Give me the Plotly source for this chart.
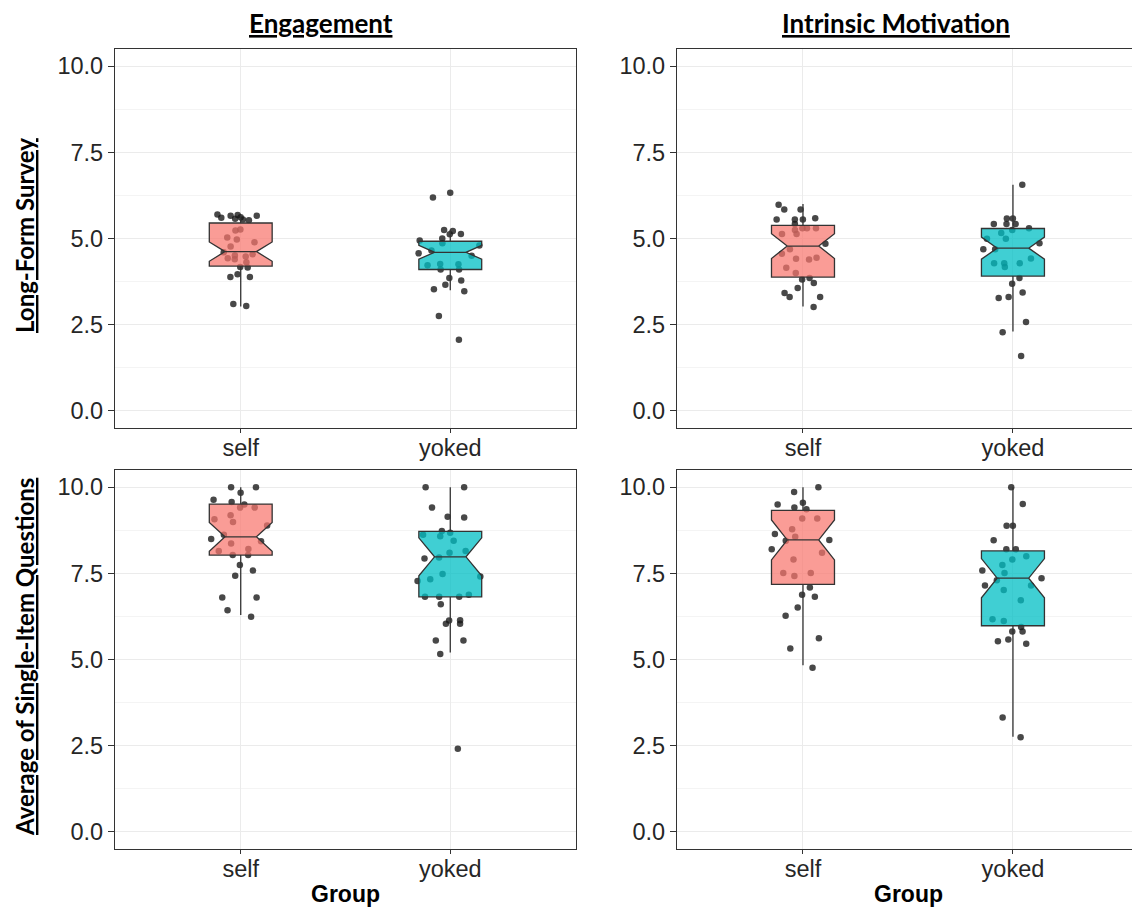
import plotly.graph_objects as go

# ---------------- data ----------------
groups = ["self", "yoked"]
y_ticks = [0, 2.5, 5, 7.5, 10]
y_tick_labels = ["0.0", "2.5", "5.0", "7.5", "10.0"]
col_titles = ["Engagement", "Intrinsic Motivation"]
row_titles = ["Long-Form Survey", "Average of Single-Item Questions"]

# Engagement, Long-Form Survey
eng_lf_self = [5.70, 5.68, 5.66, 5.66, 5.62, 5.60, 5.57, 5.55, 5.53, 5.26, 5.23,
               5.03, 4.97, 4.89, 4.77, 4.60, 4.54, 4.51, 4.48, 4.43, 4.40, 4.31,
               4.17, 4.16, 3.96, 3.88, 3.88, 3.10, 3.04]
eng_lf_yoked = [6.33, 6.19, 5.25, 5.22, 5.13, 5.12, 5.00, 4.94, 4.86, 4.80, 4.65,
                4.57, 4.50, 4.26, 4.25, 4.22, 4.10, 4.10, 3.85, 3.78, 3.66, 3.53,
                3.47, 2.75, 2.06]
# Intrinsic Motivation, Long-Form Survey
im_lf_self = [5.98, 5.84, 5.84, 5.59, 5.55, 5.55, 5.55, 5.42, 5.30, 5.30, 5.30,
              5.25, 5.13, 5.13, 4.85, 4.69, 4.56, 4.44, 4.41, 4.39, 4.15, 4.00,
              3.85, 3.81, 3.71, 3.56, 3.42, 3.30, 3.30, 3.01]
im_lf_yoked = [6.56, 5.58, 5.58, 5.42, 5.42, 5.42, 5.30, 5.25, 5.16, 4.99, 4.99,
               4.86, 4.69, 4.69, 4.42, 4.28, 4.28, 4.28, 4.17, 3.85, 3.69, 3.43,
               3.30, 3.27, 2.58, 2.28, 1.59]
# Engagement, Single-Item average
eng_si_self = [10.0, 10.0, 9.84, 9.64, 9.57, 9.50, 9.41, 9.41, 9.19, 9.07, 8.99,
               8.89, 8.62, 8.50, 8.43, 8.37, 8.21, 8.15, 8.03, 8.03, 7.74, 7.58,
               7.43, 6.80, 6.80, 6.43, 6.24]
eng_si_yoked = [10.0, 10.0, 9.41, 9.14, 9.12, 8.73, 8.68, 8.62, 8.58, 8.45, 8.15,
                8.10, 7.96, 7.93, 7.48, 7.41, 7.33, 7.28, 6.88, 6.82, 6.82, 6.82,
                6.60, 6.14, 6.13, 6.04, 6.04, 5.55, 5.55, 5.16, 2.41]
# Intrinsic Motivation, Single-Item average
im_si_self = [10.0, 9.86, 9.55, 9.50, 9.41, 9.36, 9.09, 9.09, 8.78, 8.64, 8.56,
              8.47, 8.45, 8.20, 8.10, 7.90, 7.51, 7.51, 7.42, 7.09, 6.88, 6.82,
              6.51, 6.27, 5.62, 5.32, 4.76]
im_si_yoked = [10.0, 9.51, 8.88, 8.88, 8.46, 8.20, 8.20, 8.00, 7.90, 7.74, 7.58,
               7.51, 7.36, 7.30, 7.15, 7.15, 7.02, 6.72, 6.17, 6.12, 5.94, 5.81,
               5.81, 5.58, 5.53, 5.46, 3.32, 2.74]

# box statistics: [self, yoked]
q1 = {"eng_lf": [4.20, 4.10], "im_lf": [3.88, 3.91], "eng_si": [8.03, 6.82], "im_si": [7.18, 5.98]}
median = {"eng_lf": [4.62, 4.60], "im_lf": [4.78, 4.72], "eng_si": [8.56, 7.98], "im_si": [8.47, 7.36]}
q3 = {"eng_lf": [5.45, 4.92], "im_lf": [5.38, 5.29], "eng_si": [9.51, 8.72], "im_si": [9.33, 8.15]}
lower = {"eng_lf": [3.03, 3.50], "im_lf": [3.03, 2.30], "eng_si": [6.29, 5.20], "im_si": [4.83, 2.76]}
upper = {"eng_lf": [5.69, 5.25], "im_lf": [6.00, 6.56], "eng_si": [10.0, 10.0], "im_si": [10.0, 10.0]}
notch = {"eng_lf": [0.28, 0.20], "im_lf": [0.36, 0.32], "eng_si": [0.42, 0.55], "im_si": [0.58, 0.57]}

panels = [
    ("eng_lf", eng_lf_self, eng_lf_yoked, "x", "y"),
    ("im_lf", im_lf_self, im_lf_yoked, "x2", "y2"),
    ("eng_si", eng_si_self, eng_si_yoked, "x3", "y3"),
    ("im_si", im_si_self, im_si_yoked, "x4", "y4"),
]

# ---------------- styling ----------------
W, H = 1132, 907
fills = ["rgba(248,118,109,0.72)", "rgba(0,191,196,0.75)"]
border = "#333333"
grid_major = "#EBEBEB"
grid_minor = "#F4F4F4"
tick_font = dict(family="Liberation Sans, Arial", size=23.5, color="#262626")

fig = go.Figure()

for key, s_vals, y_vals, xa, ya in panels:
    # jittered points (drawn first so the translucent boxes cover them)
    for g, vals in zip(groups, [s_vals, y_vals]):
        fig.add_trace(go.Box(
            x=[g] * len(vals), y=vals, xaxis=xa, yaxis=ya,
            boxpoints="all", jitter=1.0, pointpos=0, width=0.34,
            fillcolor="rgba(0,0,0,0)", line=dict(color="rgba(0,0,0,0)", width=0),
            marker=dict(color="rgba(20,20,20,0.78)", size=6.5, line=dict(width=0)),
            showlegend=False, hoverinfo="y",
        ))
    # notched boxes from the statistics
    for i, g in enumerate(groups):
        fig.add_trace(go.Box(
            x=[g], q1=[q1[key][i]], median=[median[key][i]], q3=[q3[key][i]],
            lowerfence=[lower[key][i]], upperfence=[upper[key][i]],
            notchspan=[notch[key][i]], notched=True, notchwidth=0.25,
            boxpoints=False, width=0.3, whiskerwidth=0,
            fillcolor=fills[i], line=dict(color=border, width=1.3),
            xaxis=xa, yaxis=ya, showlegend=False,
        ))

# panel domains (pixel positions converted to paper fractions)
xl = [115 / W, 576 / W]
xr = [677 / W, 1.0]
yt = [1 - 428 / H, 1 - 49 / H]
yb = [1 - 849 / H, 1 - 470 / H]

def xaxis(domain, anchor, rng):
    return dict(domain=domain, anchor=anchor, type="category", categoryarray=groups,
                range=rng, showgrid=True, gridcolor=grid_major, gridwidth=1,
                ticks="outside", ticklen=4, tickcolor=border, tickwidth=1,
                ticklabelstandoff=-5,
                showline=True, linecolor=border, linewidth=1.2, mirror=True,
                tickfont=tick_font, zeroline=False)

def yaxis(domain, anchor, mirror):
    return dict(domain=domain, anchor=anchor, range=[-0.5, 10.5],
                tickvals=y_ticks, ticktext=y_tick_labels,
                showgrid=True, gridcolor=grid_major, gridwidth=1,
                minor=dict(tickvals=[1.25, 3.75, 6.25, 8.75], showgrid=True,
                           gridcolor=grid_minor, gridwidth=1, ticks=""),
                ticks="outside", ticklen=6, tickcolor=border, tickwidth=1,
                showline=True, linecolor=border, linewidth=1.2, mirror=mirror,
                tickfont=tick_font, zeroline=False)

rng_l = [-0.6, 1.6]
rng_r = [-0.6, 1.567]

fig.update_layout(
    width=W, height=H, margin=dict(l=0, r=0, t=0, b=0),
    paper_bgcolor="white", plot_bgcolor="white", boxmode="overlay",
    xaxis=xaxis(xl, "y", rng_l), yaxis=yaxis(yt, "x", True),
    xaxis2=xaxis(xr, "y2", rng_r), yaxis2=yaxis(yt, "x2", False),
    xaxis3=xaxis(xl, "y3", rng_l), yaxis3=yaxis(yb, "x3", True),
    xaxis4=xaxis(xr, "y4", rng_r), yaxis4=yaxis(yb, "x4", False),
)

title_font = dict(family="Lato, Carlito, sans-serif", size=26, color="black")
ann = []
for t, cx in zip(col_titles, [321, 896]):
    ann.append(dict(text="<b><u>%s</u></b>" % t, x=cx / W, y=1 - 23 / H,
                    xref="paper", yref="paper", showarrow=False,
                    xanchor="center", yanchor="middle", font=title_font))
for t, cy in zip(row_titles, [236, 657]):
    ann.append(dict(text="<b><u>%s</u></b>" % t, x=24 / W, y=1 - cy / H,
                    xref="paper", yref="paper", showarrow=False, textangle=-90,
                    xanchor="center", yanchor="middle",
                    font=dict(family="Lato, Carlito, sans-serif", size=24, color="black")))
for cx in [345, 908]:
    ann.append(dict(text="<b>Group</b>", x=cx / W, y=1 - 894 / H,
                    xref="paper", yref="paper", showarrow=False,
                    xanchor="center", yanchor="middle",
                    font=dict(family="Liberation Sans, Arial", size=23, color="black")))
fig.update_layout(annotations=ann)

fig.write_html(
    "out.html",
    config={"displayModeBar": False},
    post_script="document.body.style.margin='0';document.body.style.overflow='hidden';"
                "document.documentElement.style.overflow='hidden';",
)
